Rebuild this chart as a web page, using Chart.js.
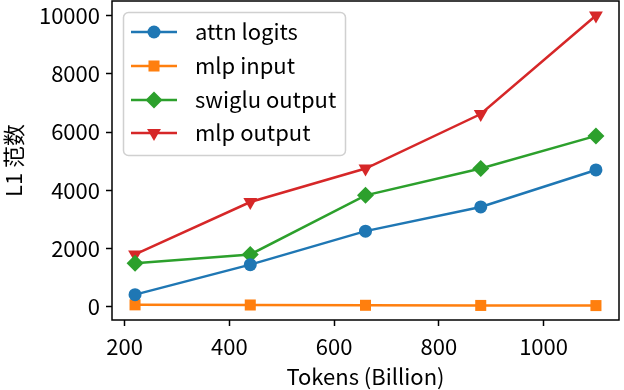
<!DOCTYPE html>
<html><head><meta charset="utf-8">
<script src="https://cdn.jsdelivr.net/npm/chart.js@4/dist/chart.umd.min.js"></script>
<style>html,body{margin:0;padding:0;background:#fff;}canvas{display:block;}</style>
</head><body>
<canvas id="c" width="624" height="390"></canvas>
<script>
const tokens = [220, 440, 660, 880, 1100];
const attnLogits = [420, 1450, 2600, 3430, 4700];
const mlpInput = [70, 65, 55, 50, 45];
const swigluOutput = [1500, 1800, 3830, 4750, 5870];
const mlpOutput = [1800, 3600, 4750, 6620, 10000];
const seriesNames = ['attn logits', 'mlp input', 'swiglu output', 'mlp output'];
const xTickValues = [200, 400, 600, 800, 1000];
const yTickValues = [0, 2000, 4000, 6000, 8000, 10000];
const xTitle = 'Tokens (Billion)';
const yTitle = 'L1 范数';

const FONT = '"Noto Sans CJK SC", "Noto Sans", sans-serif';
const FS = 22;
const colors = ['#1f77b4', '#ff7f0e', '#2ca02c', '#d62728'];
const styles = [
  {pointStyle: 'circle', radius: 6.5, rotation: 0},
  {pointStyle: 'rect', radius: 7.8, rotation: 0},
  {pointStyle: 'rectRot', radius: 8.5, rotation: 0},
  {pointStyle: 'triangle', radius: 8, rotation: 180}
];
const series = [attnLogits, mlpInput, swigluOutput, mlpOutput];

const datasets = series.map((vals, i) => ({
  label: seriesNames[i],
  data: tokens.map((t, j) => ({x: t, y: vals[j]})),
  borderColor: colors[i],
  backgroundColor: colors[i],
  borderWidth: 2.5,
  pointStyle: styles[i].pointStyle,
  pointRadius: styles[i].radius,
  pointRotation: styles[i].rotation,
  pointBorderWidth: 0,
  pointHoverRadius: styles[i].radius,
  tension: 0,
  clip: false
}));

const framePlugin = {
  id: 'frame',
  afterDatasetsDraw(chart) {
    const {ctx, chartArea: a} = chart;
    ctx.save();
    ctx.strokeStyle = '#000';
    ctx.lineWidth = 1.5;
    ctx.strokeRect(a.left, a.top, a.right - a.left, a.bottom - a.top);
    // legend
    const lx = 123.5, ly = 12.5, lw = 222, lh = 143, r = 5;
    ctx.beginPath();
    ctx.moveTo(lx + r, ly);
    ctx.arcTo(lx + lw, ly, lx + lw, ly + lh, r);
    ctx.arcTo(lx + lw, ly + lh, lx, ly + lh, r);
    ctx.arcTo(lx, ly + lh, lx, ly, r);
    ctx.arcTo(lx, ly, lx + lw, ly, r);
    ctx.closePath();
    ctx.fillStyle = 'rgba(255,255,255,0.8)';
    ctx.fill();
    ctx.strokeStyle = '#d0d0d0';
    ctx.lineWidth = 1.5;
    ctx.stroke();
    const rowY = [32, 66, 100, 133];
    seriesNames.forEach((name, i) => {
      const y = rowY[i];
      ctx.strokeStyle = colors[i];
      ctx.lineWidth = 2.5;
      ctx.beginPath();
      ctx.moveTo(131, y);
      ctx.lineTo(177, y);
      ctx.stroke();
      ctx.fillStyle = colors[i];
      ctx.strokeStyle = colors[i];
      Chart.helpers.drawPoint(ctx, {pointStyle: styles[i].pointStyle, radius: styles[i].radius, rotation: styles[i].rotation, borderWidth: 0}, 154, y);
      ctx.fillStyle = '#000';
      ctx.font = FS + 'px ' + FONT;
      ctx.textBaseline = 'middle';
      ctx.textAlign = 'left';
      ctx.fillText(name, 195, y);
    });
    ctx.restore();
  }
};

new Chart(document.getElementById('c'), {
  type: 'line',
  data: {datasets},
  plugins: [framePlugin],
  options: {
    responsive: false,
    animation: false,
    devicePixelRatio: 1,
    layout: {autoPadding: false, padding: {left: 0, top: 1, right: 5, bottom: 0}},
    plugins: {legend: {display: false}, tooltip: {enabled: false}},
    scales: {
      x: {
        type: 'linear',
        min: 176, max: 1144,
        afterBuildTicks(s) { s.ticks = xTickValues.map(v => ({value: v})); },
        ticks: {autoSkip: false, callback: v => String(v), color: '#000', font: {family: FONT, size: FS}, padding: 7, maxRotation: 0},
        grid: {drawOnChartArea: false, tickLength: 6, tickColor: '#000', tickWidth: 1.5},
        border: {display: false},
        title: {display: true, text: xTitle, color: '#000', font: {family: FONT, size: FS}, padding: {top: 8, bottom: 0}},
        afterFit(s) { s.height = 70; s.paddingLeft = 0; s.paddingRight = 0; }
      },
      y: {
        type: 'linear',
        min: -450, max: 10500,
        afterBuildTicks(s) { s.ticks = yTickValues.map(v => ({value: v})); },
        ticks: {autoSkip: false, callback: v => String(v), color: '#000', font: {family: FONT, size: FS}, padding: 6},
        grid: {drawOnChartArea: false, tickLength: 6, tickColor: '#000', tickWidth: 1.5},
        border: {display: false},
        title: {display: true, text: yTitle, color: '#000', font: {family: FONT, size: FS}, padding: {top: 0, bottom: 4}},
        afterFit(s) { s.width = 112; s.paddingTop = 0; s.paddingBottom = 0; }
      }
    }
  }
});
</script>
</body></html>
